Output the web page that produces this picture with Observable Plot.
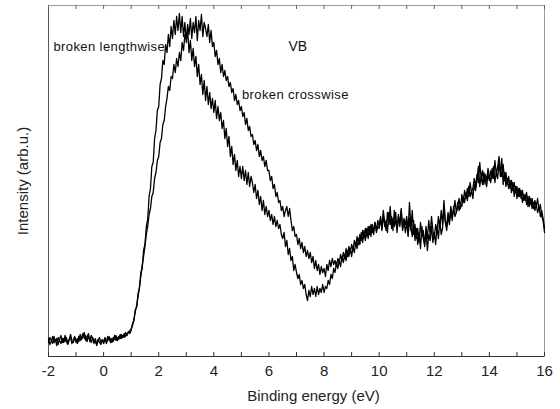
<!DOCTYPE html>
<html>
<head>
<meta charset="utf-8">
<script src="https://cdn.jsdelivr.net/npm/d3@7"></script>
<script src="https://cdn.jsdelivr.net/npm/@observablehq/plot@0.6"></script>
<style>
  html, body { margin: 0; padding: 0; background: #fff; }
  #chart { width: 560px; height: 409px; }
</style>
</head>
<body>
<div id="chart"></div>
<script>
// Valence-band photoemission spectra, sampled every 0.05 eV from -2 to 16 eV
const energyStart = -2;
const energyStep = 0.05;

// Intensity (arb. u.) of the sample broken lengthwise, one row per eV
const lengthwise = [
  18, 12, 15, 20, 14, 17, 11, 19, 16, 13, 18, 14, 21, 15, 12, 17, 19, 13, 16, 20,
  14, 18, 15, 22, 17, 20, 24, 16, 19, 23, 15, 21, 18, 13, 16, 11, 17, 14, 12, 16,
  15, 19, 13, 17, 20, 14, 18, 15, 21, 16, 19, 17, 22, 18, 21, 19, 24, 21, 25, 23,
  26, 33, 36, 47, 49, 63, 68, 84, 88, 106, 112, 130, 137, 160, 168, 190, 194, 218, 226, 246,
  250, 272, 278, 296, 292, 312, 304, 322, 310, 330, 318, 336, 322, 340, 326, 343, 324, 340, 320, 334,
  314, 326, 304, 316, 296, 308, 290, 300, 280, 292, 272, 282, 262, 276, 256, 270, 252, 264, 248, 258,
  244, 256, 238, 250, 236, 244, 228, 236, 218, 228, 210, 220, 200, 210, 192, 202, 186, 196, 180, 190,
  178, 190, 176, 186, 172, 184, 170, 180, 174, 164, 172, 158, 166, 152, 160, 146, 156, 142, 150, 140,
  146, 136, 142, 132, 140, 130, 136, 128, 132, 122, 118, 124, 110, 116, 102, 108, 96, 100, 86, 92,
  84, 78, 82, 72, 76, 68, 72, 62, 56, 66, 60, 70, 62, 68, 60, 70, 62, 68, 64, 72,
  64, 70, 68, 76, 72, 82, 78, 88, 84, 94, 88, 96, 90, 100, 94, 102, 96, 106, 100, 108,
  100, 110, 104, 114, 108, 118, 112, 124, 114, 126, 116, 128, 118, 130, 120, 132, 122, 134, 124, 130,
  128, 138, 126, 142, 130, 136, 124, 144, 132, 140, 126, 146, 134, 128, 142, 130, 148, 126, 138, 132,
  140, 126, 154, 130, 120, 136, 116, 128, 112, 124, 108, 130, 118, 112, 126, 106, 122, 116, 130, 114,
  124, 112, 130, 118, 136, 122, 128, 150, 134, 126, 140, 132, 146, 136, 150, 140, 144, 154, 146, 152,
  150, 160, 154, 164, 156, 170, 160, 166, 158, 172, 166, 176, 190, 170, 180, 172, 184, 176, 170, 182,
  176, 186, 178, 190, 174, 184, 178, 194, 180, 198, 172, 184, 170, 178, 168, 176, 164, 174, 160, 170,
  158, 168, 160, 166, 154, 162, 156, 164, 150, 160, 152, 158, 148, 156, 150, 158, 146, 152, 140, 136,
  124
];

// Intensity (arb. u.) of the sample broken crosswise, one row per eV
const crosswise = [
  14, 19, 16, 13, 20, 15, 18, 12, 17, 21, 14, 18, 15, 19, 13, 17, 22, 16, 14, 19,
  17, 13, 20, 16, 19, 23, 18, 21, 15, 20, 17, 14, 19, 15, 18, 12, 16, 19, 14, 17,
  13, 17, 15, 20, 16, 18, 14, 19, 17, 21, 16, 20, 18, 22, 19, 23, 20, 22, 24, 26,
  28, 31, 37, 45, 51, 60, 69, 80, 91, 100, 110, 122, 130, 142, 148, 160, 164, 178, 184, 196,
  200, 214, 218, 232, 236, 250, 258, 270, 266, 280, 278, 292, 284, 298, 290, 304, 296, 314, 306, 322,
  318, 332, 322, 338, 318, 334, 324, 340, 316, 336, 326, 342, 320, 334, 328, 320, 332, 314, 326, 310,
  314, 300, 306, 292, 298, 284, 292, 280, 286, 276, 280, 270, 274, 264, 268, 256, 262, 252, 256, 246,
  250, 240, 244, 232, 238, 226, 230, 220, 222, 212, 216, 206, 212, 200, 206, 196, 200, 190, 196, 186,
  186, 176, 180, 168, 172, 160, 164, 154, 156, 146, 150, 140, 146, 150, 140, 148, 136, 126, 130, 120,
  122, 112, 118, 108, 114, 104, 110, 100, 106, 98, 104, 94, 100, 88, 96, 86, 92, 82, 90, 84,
  88, 80, 92, 86, 96, 90, 98, 92, 96, 90, 98, 94, 102, 96, 104, 98, 108, 100, 110, 104,
  112, 106, 116, 110, 120, 112, 122, 116, 126, 118, 128, 120, 130, 122, 132, 124, 128, 134, 126, 136,
  130, 140, 128, 146, 134, 126, 144, 132, 150, 128, 138, 130, 144, 124, 140, 132, 146, 128, 136, 124,
  134, 120, 138, 126, 146, 122, 132, 118, 128, 114, 134, 120, 126, 110, 130, 118, 136, 122, 140, 126,
  118, 132, 124, 140, 128, 146, 132, 156, 136, 130, 144, 136, 150, 140, 146, 156, 144, 150, 158, 148,
  162, 154, 166, 158, 168, 160, 174, 164, 168, 178, 170, 182, 174, 194, 178, 186, 172, 182, 176, 188,
  180, 174, 188, 178, 196, 182, 190, 200, 186, 180, 192, 176, 184, 172, 180, 168, 176, 166, 174, 164,
  170, 160, 168, 158, 166, 156, 162, 152, 160, 150, 158, 148, 154, 146, 152, 144, 150, 140, 146, 138,
  128
];

const xTickLabels = [-2, 0, 2, 4, 6, 8, 10, 12, 14, 16];
const xTickMarks = [-2, -1, 0, 1, 2, 3, 4, 5, 6, 7, 8, 9, 10, 11, 12, 13, 14, 15, 16];

const seriesNames = ["broken lengthwise", "broken crosswise"];
const panelTitle = "VB";
const xTitle = "Binding energy (eV)";
const yTitle = "Intensity (arb.u.)";

const spectra = [];
[lengthwise, crosswise].forEach((values, s) => {
  values.forEach((v, i) => {
    spectra.push({
      energy: +(energyStart + i * energyStep).toFixed(2),
      intensity: v,
      sample: seriesNames[s]
    });
  });
});

// plot area is 351 px tall; tick marks are short and point into the frame
const frameHeight = 351;
const tickLength = 4;

const chart = Plot.plot({
  width: 560,
  height: 409,
  marginLeft: 48,
  marginRight: 16,
  marginTop: 5,
  marginBottom: 53,
  style: { fontFamily: "'Liberation Sans', Arial, Helvetica, sans-serif", background: "#fff", color: "#111" },
  x: { domain: [-2, 16] },
  y: { domain: [0, 351], axis: null },
  marks: [
    Plot.frame({ stroke: "#9a9a9a" }),
    Plot.ruleX([-2], { stroke: "#555" }),
    Plot.ruleY([0], { stroke: "#333" }),
    Plot.tickX(xTickMarks, { x: d => d, insetTop: frameHeight - tickLength, stroke: "#333" }),
    Plot.tickX(xTickMarks, { x: d => d, insetBottom: frameHeight - tickLength, stroke: "#666" }),
    Plot.axisX({
      anchor: "bottom", ticks: xTickLabels, tickSize: 0, tickPadding: 9,
      fontSize: 15, tickFormat: d => String(d), label: null, color: "#222"
    }),
    Plot.line(spectra, {
      x: "energy", y: "intensity", z: "sample",
      stroke: "#000", strokeWidth: 1.3, strokeLinejoin: "round"
    }),
    Plot.text([seriesNames[0]], {
      x: -1.82, y: 306, text: d => d, textAnchor: "start", lineAnchor: "bottom",
      fontSize: 13, fill: "#111"
    }),
    Plot.text([panelTitle], {
      x: 6.71, y: 306, text: d => d, textAnchor: "start", lineAnchor: "bottom",
      fontSize: 14, fill: "#111"
    }),
    Plot.text([seriesNames[1]], {
      x: 5.02, y: 258, text: d => d, textAnchor: "start", lineAnchor: "bottom",
      fontSize: 13, fill: "#111"
    }),
    Plot.text([xTitle], {
      frameAnchor: "bottom", dx: 17, dy: 40, text: d => d, textAnchor: "middle", lineAnchor: "middle",
      fontSize: 15, fill: "#222"
    }),
    Plot.text([yTitle], {
      frameAnchor: "left", dx: -25, rotate: -90, text: d => d, textAnchor: "middle", lineAnchor: "middle",
      fontSize: 15, fill: "#222"
    })
  ]
});

// the in-plot labels are set a little wider
d3.select(chart).selectAll("text")
  .filter(function () { return seriesNames.includes(this.textContent); })
  .attr("letter-spacing", "0.4px");

document.getElementById("chart").appendChild(chart);
</script>
</body>
</html>
